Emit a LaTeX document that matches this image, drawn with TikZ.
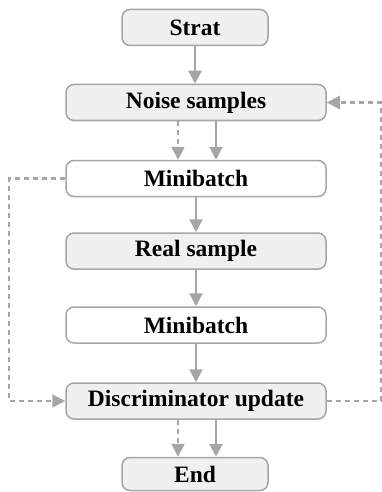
\documentclass[tikz,border=0pt]{standalone}
\usepackage{fontspec}
\setmainfont{Liberation Serif}
\usetikzlibrary{arrows.meta}
\definecolor{boxfill}{HTML}{F0F0F0}
\definecolor{edge}{HTML}{A6A6A6}
\begin{document}
\begin{tikzpicture}[x=1pt,y=-1pt,
 box/.style={draw=edge, line width=1.5pt, rounded corners=8pt, minimum height=36pt, inner sep=0pt, font=\fontsize{23.5}{25}\selectfont\bfseries, anchor=center},
 wide/.style={box, minimum width=260pt},
 narrow/.style={box, minimum width=146pt},
 gfill/.style={fill=boxfill},
 arr/.style={draw=edge, line width=2.3pt, -{Triangle[length=13pt,width=13pt]}},
 darr/.style={arr, dash pattern=on 5pt off 4pt}]
\useasboundingbox (0,0) rectangle (382,492);
\node[narrow,gfill] (start) at (195,27.5) {Strat};
\node[wide,gfill] (noise) at (196,102.5) {Noise samples};
\node[wide] (mb1) at (196,178.5) {Minibatch};
\node[wide,gfill] (real) at (196,251) {Real sample};
\node[wide] (mb2) at (196,325) {Minibatch};
\node[wide,gfill] (disc) at (196,401) {Discriminator update};
\node[narrow,gfill,minimum height=33pt] (end) at (195,474) {End};
\draw[arr] (start.south) -- (start.south |- noise.north);
\draw[darr] ([xshift=-18pt]noise.south) -- ([xshift=-18pt]mb1.north);
\draw[arr] ([xshift=20pt]noise.south) -- ([xshift=20pt]mb1.north);
\draw[arr] (mb1.south) -- (real.north);
\draw[arr] (real.south) -- (mb2.north);
\draw[arr] (mb2.south) -- (disc.north);
\draw[darr] ([xshift=-18pt]disc.south) -- ([xshift=-18pt]disc.south |- end.north);
\draw[arr] ([xshift=20pt]disc.south) -- ([xshift=20pt]disc.south |- end.north);
\draw[darr] (mb1.west) -- ++(-56,0) |- (disc.west);
\draw[darr] (disc.east) -- ++(54,0) |- (noise.east);
\end{tikzpicture}
\end{document}
